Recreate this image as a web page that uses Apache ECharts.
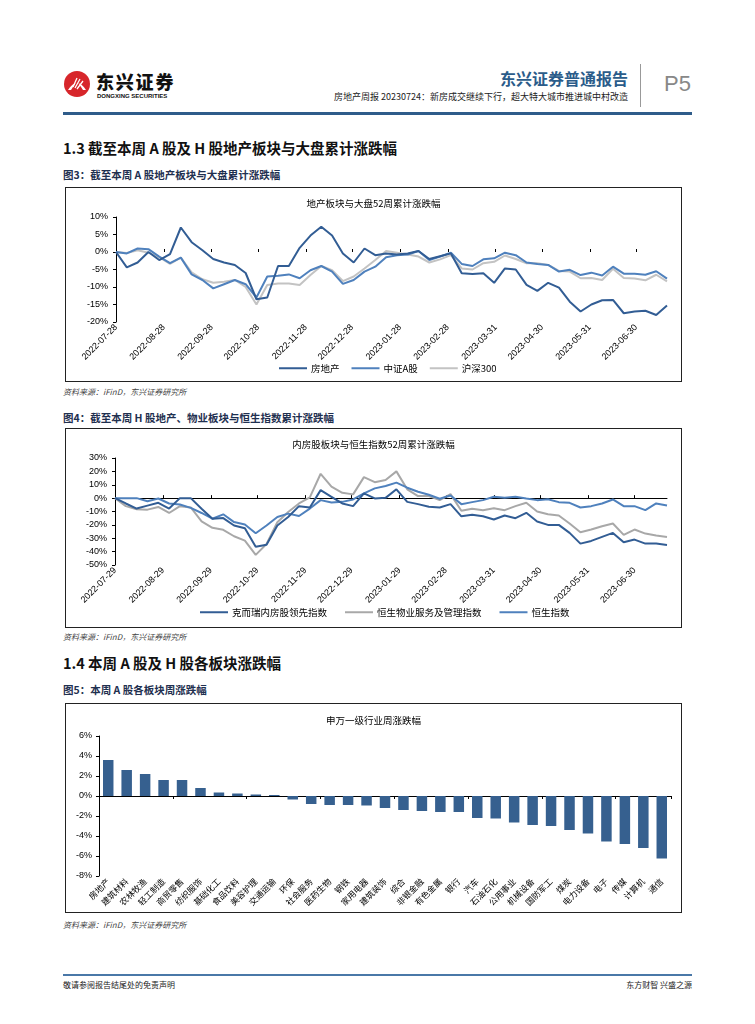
<!DOCTYPE html>
<html><head><meta charset="utf-8">
<script src="https://cdn.jsdelivr.net/npm/echarts@6/dist/echarts.min.js"></script>
<style>
body{margin:0;width:755px;height:1024px;background:#fff;position:relative;font-family:"Noto Sans CJK SC","Liberation Sans",sans-serif;overflow:hidden}
.abs{position:absolute;white-space:nowrap;line-height:1}
.box{position:absolute;left:65px;width:617px;border:1px solid #222;box-sizing:border-box}
.box > div{width:100%;height:100%}
.h1{font-size:14.5px;font-weight:bold;color:#111;left:63px}
.fig{font-size:10.5px;font-weight:bold;color:#1F3050;left:63px}
.src{font-size:8px;color:#444;font-style:italic;left:63px}
</style></head><body>
<!-- header -->
<svg class="abs" style="left:63px;top:70px" width="28" height="28" viewBox="0 0 28 28">
  <circle cx="14" cy="14" r="13" fill="#D7262B"/>
  <path d="M5 20 Q14 6 23 20 Z" fill="#fff"/>
  <path d="M8 20 L14 11 L20 20 Z" fill="#D7262B"/>
  <path d="M10 17 L14 8 M12 18 L17 9 M14 19 L20 11" stroke="#fff" stroke-width="1.3"/>
</svg>
<div class="abs" style="left:96px;top:72px;font-size:18px;font-weight:900;letter-spacing:1.8px;color:#111">东兴证券</div>
<div class="abs" style="left:97px;top:93px;font-size:6px;font-weight:bold;font-family:'Liberation Sans',Arial;color:#111">DONGXING SECURITIES</div>
<div class="abs" style="right:127px;top:70px;font-size:16px;font-weight:bold;color:#2B5C8A">东兴证券普通报告</div>
<div class="abs" style="right:127px;top:92px;font-size:9px;color:#222">房地产周报 20230724：新房成交继续下行，超大特大城市推进城中村改造</div>
<div class="abs" style="left:640px;top:64px;width:1px;height:43px;background:#999"></div>
<div class="abs" style="left:664px;top:73px;font-size:22px;color:#888;font-family:'Liberation Sans',Arial">P5</div>
<div class="abs" style="left:63px;top:112px;width:629px;height:3px;background:#2F5C8A"></div>

<div class="abs h1" style="top:141px">1.3 截至本周 A 股及 H 股地产板块与大盘累计涨跌幅</div>
<div class="abs fig" style="top:170px">图3：截至本周 A 股地产板块与大盘累计涨跌幅</div>
<div class="box" style="top:187px;height:195px"><div id="c1"></div></div>
<div class="abs src" style="top:388px">资料来源：iFinD，东兴证券研究所</div>

<div class="abs fig" style="top:413px">图4：截至本周 H 股地产、物业板块与恒生指数累计涨跌幅</div>
<div class="box" style="top:428px;height:200px"><div id="c2"></div></div>
<div class="abs src" style="top:633px">资料来源：iFinD，东兴证券研究所</div>

<div class="abs h1" style="top:656px">1.4 本周 A 股及 H 股各板块涨跌幅</div>
<div class="abs fig" style="top:685px">图5：本周 A 股各板块周涨跌幅</div>
<div class="box" style="top:703px;height:210px"><div id="c3"></div></div>
<div class="abs src" style="top:921px">资料来源：iFinD，东兴证券研究所</div>

<div class="abs" style="left:63px;top:974px;width:629px;height:2px;background:#4A78A8"></div>
<div class="abs" style="left:63px;top:981px;font-size:8px;color:#222">敬请参阅报告结尾处的免责声明</div>
<div class="abs" style="right:63px;top:981px;font-size:8px;color:#222">东方财智 兴盛之源</div>

<script>
// ---------- Chart 1 data ----------
const c1Start = '2022-07-28';
const c1Labels = ['2022-07-28','2022-08-28','2022-09-28','2022-10-28','2022-11-28','2022-12-28','2023-01-28','2023-02-28','2023-03-31','2023-04-30','2023-05-31','2023-06-30'];
const c1Names = ['房地产','中证A股','沪深300'];
const c1RealEstate = [0,-4.4,-3,0,-2.3,-0.6,7,2.8,0.5,-2,-3,-3.7,-6,-13.5,-13,-4,-4,1.2,4.7,7.2,4.7,-0.4,-3,1,-0.9,-0.4,-0.7,-0.4,0.3,-2,-1.2,-0.4,-6.1,-6.3,-6.1,-8.8,-4.7,-5,-9.4,-11.1,-8.8,-10.2,-14.2,-17,-15,-13.8,-13.7,-17.5,-17,-16.8,-18,-15.3];
const c1CSIA = [0,-0.4,1,0.8,-1.3,-3.2,-1.6,-6.4,-8,-10.4,-9.2,-8,-9.2,-13,-7,-6.8,-6.4,-7.5,-5.2,-4,-5.6,-9.1,-8,-5.6,-4.2,-1.5,-0.9,-0.7,0.3,-2.3,-1.3,-0.2,-3.4,-4,-2.1,-1.8,-0.2,-0.9,-3,-3.4,-3.7,-5.6,-5.1,-6.6,-5.9,-6.7,-4.2,-6.2,-6.2,-6.5,-5.5,-7.6];
const c1HS300 = [0,-0.3,0.5,-0.2,-1.5,-3.4,-1.6,-5.8,-7.8,-8.8,-8.5,-8,-10,-15,-9.4,-9,-9,-9.4,-6.6,-4,-5.2,-8.3,-7,-4.7,-2.3,0.3,-0.2,-0.7,-1.3,-3,-2.1,-0.9,-4.7,-5,-3.2,-2.8,-1,-2,-3.2,-3.2,-3.7,-5.4,-5.6,-7.5,-7.4,-8,-4.8,-7.4,-7.6,-8.1,-6.5,-8.4];

// ---------- Chart 2 data ----------
const c2Start = '2022-07-29';
const c2Labels = ['2022-07-29','2022-08-29','2022-09-29','2022-10-29','2022-11-29','2022-12-29','2023-01-29','2023-02-28','2023-03-31','2023-04-30','2023-05-31','2023-06-30'];
const c2Names = ['克而瑞内房股领先指数','恒生物业服务及管理指数','恒生指数'];
const c2CRIC = [0,-4,-7.8,-5.6,-3.5,-7.8,0,0,-8,-15.4,-14.9,-20.5,-22.5,-36.4,-34.8,-20.5,-14.1,-6,-7,6,1,-4,-6,3.5,-0.2,0.2,6.6,-2.8,-4.5,-6.5,-7,-4.5,-13.6,-12.5,-13.5,-16,-13,-15,-11,-17.5,-20,-20,-26,-34,-32,-29,-26,-33,-31,-34,-34,-35];
const c2Prop = [0,-6,-8.3,-8.6,-6.6,-11.1,-6,-7,-17.4,-22.2,-23.7,-28.5,-31.8,-42.4,-34.3,-18,-10.4,-4,0.5,18.2,8.6,4,2.8,15.7,11.9,13.6,20,6.6,1.5,1.5,-1.5,3,-9.5,-8,-9,-7.5,-9,-6,-3.5,-10,-12,-13,-19,-25.5,-23.5,-21,-19,-27.5,-23.5,-26.5,-28,-29];
const c2HSI = [0,0,0,-2.3,-0.3,-4,-4.8,-7.3,-11.1,-15.4,-12.1,-17.9,-19.7,-26.3,-20.5,-14.1,-11.6,-13.4,-7.8,-1.5,-3.3,-2.8,-1,3.5,7.3,9.1,11.6,7.8,4.8,2.5,-0.5,2,-4.5,-3,-1.5,1,0.3,1,-0.3,-1.5,-0.8,-3,-3.5,-7,-6,-4,-1,-6,-6,-9,-4,-5.5];

// ---------- Chart 3 data ----------
const c3Cats = ['房地产','建筑材料','农林牧渔','轻工制造','商贸零售','纺织服饰','基础化工','食品饮料','美容护理','交通运输','环保','社会服务','医药生物','钢铁','家用电器','建筑装饰','综合','非银金融','有色金属','银行','汽车','石油石化','公用事业','机械设备','国防军工','煤炭','电力设备','电子','传媒','计算机','通信'];
const c3Vals = [3.6,2.6,2.2,1.6,1.6,0.8,0.35,0.25,0.15,0.1,-0.35,-0.8,-0.9,-0.9,-0.95,-1.2,-1.4,-1.5,-1.6,-1.6,-2.2,-2.25,-2.65,-2.9,-3.0,-3.4,-3.75,-4.55,-4.8,-5.2,-6.25];

const FONT = 'Arial, "Liberation Sans", "Noto Sans CJK SC", sans-serif';
const CJK = '"Noto Sans CJK SC", sans-serif';
const DAY = 86400000;
function ymd(s){return s.split('-').map(Number);}
function dayOffset(start,s){const a=ymd(start),b=ymd(s);return Math.round((Date.UTC(b[0],b[1]-1,b[2])-Date.UTC(a[0],a[1]-1,a[2]))/DAY);}
function offsetToLabel(start,v){const a=ymd(start);const d=new Date(Date.UTC(a[0],a[1]-1,a[2])+Math.round(v)*DAY);
  return d.getUTCFullYear()+'-'+String(d.getUTCMonth()+1).padStart(2,'0')+'-'+String(d.getUTCDate()).padStart(2,'0');}

function lineOpt(cfg){
  const n = cfg.series[0].data.length;
  const xs = []; for(let i=0;i<n;i++) xs.push(7*i); // weekly observations, in days from start
  const labPos = cfg.labels.map(s=>dayOffset(cfg.start,s));
  const fmt = v=>offsetToLabel(cfg.start,v);
  return {
    animation:false,
    title:{text:cfg.title,left:'center',top:cfg.titleTop,textStyle:{fontSize:9.5,fontWeight:'normal',color:'#000',fontFamily:CJK}},
    grid:cfg.grid,
    legend:{left:cfg.legendLeft,bottom:cfg.legendBottom,icon:'rect',itemWidth:28,itemHeight:2,itemGap:cfg.legendGap,textStyle:{fontSize:9.5,color:'#000',fontFamily:CJK,padding:[0,0,0,-1]},data:cfg.series.map(s=>s.name)},
    xAxis:[
      {type:'value',min:0,max:xs[n-1],axisLine:{show:false,onZero:false},axisTick:{show:false},splitLine:{show:false},
       axisLabel:{customValues:labPos,formatter:fmt,rotate:45,fontSize:9,color:'#000',margin:4,fontFamily:FONT,showMinLabel:true,showMaxLabel:true}},
      {type:'value',min:0,max:xs[n-1],position:'bottom',axisLine:{show:cfg.zeroLine,onZero:true,lineStyle:{color:'#000',width:1}},
       axisTick:{show:true,inside:true,length:3,customValues:labPos,lineStyle:{color:'#000'}},axisLabel:{show:false},splitLine:{show:false}}
    ],
    yAxis:{type:'value',min:cfg.ymin,max:cfg.ymax,interval:cfg.yint,axisLine:{show:true,lineStyle:{color:'#000'}},
      axisTick:{show:true,length:3,lineStyle:{color:'#000'}},splitLine:{show:false},
      axisLabel:{formatter:'{value}%',fontSize:9,color:'#000',margin:8,fontFamily:FONT}},
    series:cfg.series.map(s=>({name:s.name,type:'line',xAxisIndex:0,symbol:'none',data:s.data.map((v,i)=>[xs[i],v]),
      lineStyle:{color:s.color,width:2},itemStyle:{color:s.color},z:s.z}))
  };
}

try{
echarts.init(document.getElementById('c1')).setOption(lineOpt({
  start:c1Start,labels:c1Labels,title:'地产板块与大盘52周累计涨跌幅',titleTop:6,
  grid:{left:50,right:14,top:29,bottom:59},legendLeft:208,legendBottom:3,legendGap:12,zeroLine:false,
  ymin:-20,ymax:10,yint:5,
  series:[
    {name:c1Names[0],data:c1RealEstate,color:'#325D94',z:4},
    {name:c1Names[1],data:c1CSIA,color:'#4F81BD',z:3},
    {name:c1Names[2],data:c1HS300,color:'#C3C3C3',z:2}
  ]
}));
}catch(e){console.error(e);}

try{
echarts.init(document.getElementById('c2')).setOption(lineOpt({
  start:c2Start,labels:c2Labels,title:'内房股板块与恒生指数52周累计涨跌幅',titleTop:6,
  grid:{left:49,right:14,top:29,bottom:62},legendLeft:129,legendBottom:5,legendGap:18,zeroLine:true,
  ymin:-50,ymax:30,yint:10,
  series:[
    {name:c2Names[0],data:c2CRIC,color:'#325D94',z:4},
    {name:c2Names[1],data:c2Prop,color:'#A8A8A8',z:2},
    {name:c2Names[2],data:c2HSI,color:'#4F81BD',z:3}
  ]
}));
}catch(e){console.error(e);}

try{
echarts.init(document.getElementById('c3')).setOption({
  animation:false,
  title:{text:'申万一级行业周涨跌幅',left:'center',top:7,textStyle:{fontSize:9.5,fontWeight:'normal',color:'#000',fontFamily:CJK}},
  grid:{left:33,right:10,top:32,bottom:36},
  xAxis:[
    {type:'category',data:c3Cats,axisLine:{show:false,onZero:false},axisTick:{show:false},
     axisLabel:{rotate:45,interval:0,fontSize:8.5,color:'#000',margin:4,fontFamily:CJK}},
    {type:'category',data:c3Cats,position:'bottom',axisLine:{show:true,onZero:true,lineStyle:{color:'#000'}},
     axisTick:{show:true,length:3,lineStyle:{color:'#000'}},axisLabel:{show:false}}
  ],
  yAxis:{type:'value',min:-8,max:6,interval:2,axisLine:{show:true,lineStyle:{color:'#000'}},
    axisTick:{show:true,length:3,lineStyle:{color:'#000'}},splitLine:{show:false},
    axisLabel:{formatter:'{value}%',fontSize:9,color:'#000',margin:7,fontFamily:FONT}},
  series:[{type:'bar',xAxisIndex:0,data:c3Vals,barWidth:10.5,itemStyle:{color:'#36608F'}}]
});
}catch(e){console.error(e);}
</script>
</body></html>
